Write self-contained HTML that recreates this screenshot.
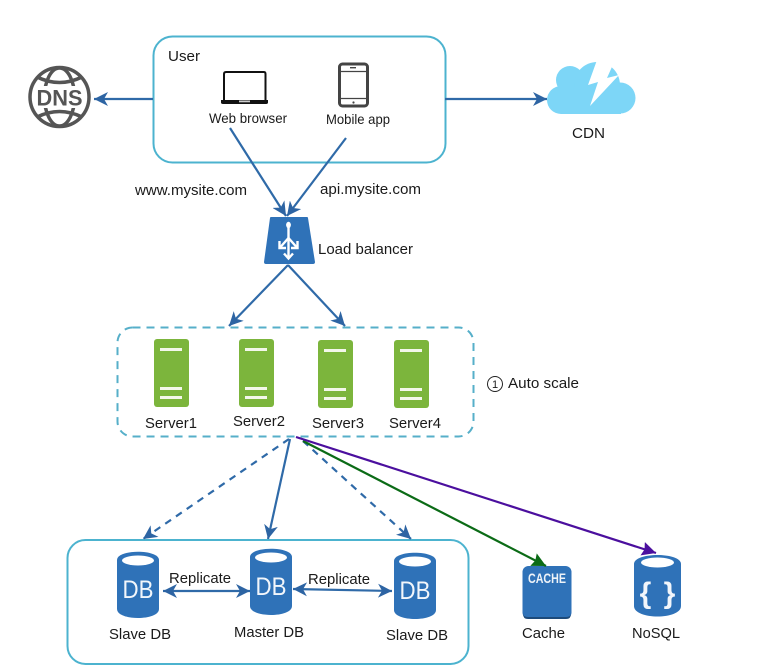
<!DOCTYPE html>
<html><head><meta charset="utf-8"><style>
html,body{margin:0;padding:0;background:#fff}
svg{display:block;filter:blur(0.35px)}
text{font-family:"Liberation Sans",sans-serif;font-size:15px;fill:#1a1a1a}
</style></head><body>
<svg width="774" height="672" viewBox="0 0 774 672" xmlns="http://www.w3.org/2000/svg">
<defs>
<marker id="a" markerUnits="userSpaceOnUse" markerWidth="15" markerHeight="14" refX="14" refY="7" orient="auto-start-reverse"><path d="M0,0 L14,7 L0,14 L4,7 Z" fill="#2d64a3"/></marker>
<marker id="g" markerUnits="userSpaceOnUse" markerWidth="15" markerHeight="14" refX="14" refY="7" orient="auto"><path d="M0,0 L14,7 L0,14 L2,7 Z" fill="#0b6b16"/></marker>
<marker id="p" markerUnits="userSpaceOnUse" markerWidth="15" markerHeight="14" refX="14" refY="7" orient="auto"><path d="M0,0 L14,7 L0,14 L2,7 Z" fill="#4b0f9e"/></marker>
<g id="srv"><rect width="35" height="68" rx="3" fill="#7cb53c"/><rect x="6" y="9" width="22" height="3" fill="#f3f7ea"/><rect x="6" y="48" width="22" height="3" fill="#f3f7ea"/><rect x="6" y="57" width="22" height="3" fill="#f3f7ea"/></g>
<g id="db"><path d="M0,8 C0,-3 42,-3 42,8 V57 C42,69 0,69 0,57 Z" fill="#2f72b8"/><ellipse cx="21" cy="8.500" rx="16" ry="5" fill="#fff"/><text x="21" y="46" text-anchor="middle" style="font-size:25px;fill:#f2f6fb" textLength="31" lengthAdjust="spacingAndGlyphs">DB</text></g>
</defs>

<!-- boxes -->
<rect x="153.500" y="36.500" width="292" height="126" rx="19" fill="none" stroke="#4cb3cf" stroke-width="2"/>
<rect x="117.500" y="327.500" width="356" height="109" rx="15" fill="none" stroke="#56afc9" stroke-width="2" stroke-dasharray="8 6"/>
<rect x="67.500" y="540" width="401" height="124" rx="18" fill="none" stroke="#4cb3cf" stroke-width="2"/>

<!-- DNS -->
<g fill="none" stroke="#555" stroke-width="3.500">
<ellipse cx="59.500" cy="97" rx="15" ry="29"/>
<path d="M37,77 Q59.500,88 82,77 M37,117 Q59.500,106 82,117"/>
</g>
<rect x="33" y="86" width="53" height="22" fill="#fff"/>
<circle cx="59.500" cy="97" r="29.500" fill="none" stroke="#555" stroke-width="3.500"/>
<text x="59.500" y="105.500" text-anchor="middle" style="font-size:22px;font-weight:bold;fill:#555" textLength="46" lengthAdjust="spacingAndGlyphs">DNS</text>

<!-- laptop -->
<path d="M224,100 V74 Q224,72 226,72 H264 Q265.500,72 265.500,74 V100" fill="#fff" stroke="#111" stroke-width="2"/>
<path d="M221,100 H268 V102.500 Q268,104 266,104 H223 Q221,104 221,102.500 Z" fill="#111"/>
<rect x="239" y="100.500" width="11" height="1.800" fill="#ccc"/>
<!-- phone -->
<rect x="339.500" y="64" width="28" height="42" rx="3" fill="#fff" stroke="#444" stroke-width="3"/>
<path d="M339,71.500 H368 M339,98.500 H368" stroke="#444" stroke-width="1.300"/>
<rect x="350" y="67" width="6" height="1.400" fill="#444"/>
<circle cx="353.500" cy="102.500" r="1.100" fill="#444"/>

<!-- cloud -->
<g fill="#7dd6f7">
<circle cx="561" cy="100" r="14"/>
<circle cx="620" cy="98" r="15.500"/>
<circle cx="570" cy="80" r="14"/>
<circle cx="597" cy="85" r="23"/>
<rect x="561" y="90" width="60" height="24"/>
</g>
<path d="M597,60 L588,85 L598,82 L590,106 L619,75 L607,78 L615,60 Z" fill="#fff"/>

<!-- load balancer -->
<path d="M270,218 Q270,217 271,217 H307 Q308,217 308,218 L315,262 Q315,264 313,264 H266 Q264,264 264,262 Z" fill="#2f72b8"/>
<g stroke="#fff" stroke-width="2.400" fill="none">
<path d="M288.500,226 V258"/>
<path d="M288.500,238 L280.500,247 M288.500,238 L296.500,247"/>
<path d="M284,253.500 L288.500,258.500 L293,253.500"/>
<path d="M279.500,241 V248 H286 M291,248 H297.500 V241"/>
</g>
<ellipse cx="288.500" cy="225" rx="2.400" ry="3.200" fill="#fff"/>

<!-- servers -->
<use href="#srv" x="154" y="339"/>
<use href="#srv" x="239" y="339"/>
<use href="#srv" x="318" y="340"/>
<use href="#srv" x="394" y="340"/>

<!-- DB -->
<use href="#db" x="117" y="552"/>
<use href="#db" x="250" y="549"/>
<use href="#db" x="394" y="553"/>

<!-- cache -->
<rect x="522.500" y="566" width="49" height="52.500" rx="6" fill="#2f72b8"/>
<path d="M523,613 Q523,617 528,617 H566 Q571,617 571,613 V614 Q571,619 566,619 H528 Q523,619 523,614 Z" fill="#1d4a7a"/>
<text x="547" y="583" text-anchor="middle" style="font-size:14px;font-weight:bold;fill:#eef3f8" textLength="38" lengthAdjust="spacingAndGlyphs">CACHE</text>

<!-- nosql -->
<path d="M634,564 C634,552 681,552 681,564 V606 C681,620 634,620 634,606 Z" fill="#2f72b8"/>
<ellipse cx="657.500" cy="562.500" rx="16.500" ry="5" fill="#fff"/>
<text x="645.500" y="603" text-anchor="middle" style="font-size:30px;font-weight:bold;fill:#f2f6fb">{</text>
<text x="669.500" y="603" text-anchor="middle" style="font-size:30px;font-weight:bold;fill:#f2f6fb">}</text>

<!-- connectors -->
<g fill="none" stroke="#2f6aa8" stroke-width="2.200">
<path d="M153,99 H94" marker-end="url(#a)"/>
<path d="M445,99 H547" marker-end="url(#a)"/>
<path d="M230,128 L286,216" marker-end="url(#a)"/>
<path d="M346,138 L287,216" marker-end="url(#a)"/>
<path d="M288,265 L229,326" marker-end="url(#a)"/>
<path d="M288,265 L345,326" marker-end="url(#a)"/>
<path d="M290,439 L268,539" marker-end="url(#a)"/>
<path d="M289,439 L143,539" stroke-dasharray="7 6" marker-end="url(#a)"/>
<path d="M303,441 L411,539" stroke-dasharray="7 6" marker-end="url(#a)"/>
<path d="M163,591 H250" marker-start="url(#a)" marker-end="url(#a)"/>
<path d="M293,589 L392,591" marker-start="url(#a)" marker-end="url(#a)"/>
</g>
<path d="M303,441 L546,566" fill="none" stroke="#0b6b16" stroke-width="2.200" marker-end="url(#g)"/>
<path d="M296,437 L656,553" fill="none" stroke="#4b0f9e" stroke-width="2.200" marker-end="url(#p)"/>

<!-- labels -->
<text x="168" y="61" textLength="32" lengthAdjust="spacingAndGlyphs">User</text>
<text x="209" y="123" style="font-size:14px" textLength="78" lengthAdjust="spacingAndGlyphs">Web browser</text>
<text x="326" y="124" style="font-size:14px" textLength="64" lengthAdjust="spacingAndGlyphs">Mobile app</text>
<text x="135" y="195" textLength="112" lengthAdjust="spacingAndGlyphs">www.mysite.com</text>
<text x="320" y="194" textLength="101" lengthAdjust="spacingAndGlyphs">api.mysite.com</text>
<text x="318" y="254" textLength="95" lengthAdjust="spacingAndGlyphs">Load balancer</text>
<text x="572" y="138" textLength="33" lengthAdjust="spacingAndGlyphs">CDN</text>
<text x="145" y="428" textLength="52" lengthAdjust="spacingAndGlyphs">Server1</text>
<text x="233" y="426" textLength="52" lengthAdjust="spacingAndGlyphs">Server2</text>
<text x="312" y="428" textLength="52" lengthAdjust="spacingAndGlyphs">Server3</text>
<text x="389" y="428" textLength="52" lengthAdjust="spacingAndGlyphs">Server4</text>
<circle cx="495" cy="384" r="7.500" fill="none" stroke="#222" stroke-width="1"/>
<text x="495" y="388" text-anchor="middle" style="font-size:11px">1</text>
<text x="508" y="388" textLength="71" lengthAdjust="spacingAndGlyphs">Auto scale</text>
<text x="169" y="583" textLength="62" lengthAdjust="spacingAndGlyphs">Replicate</text>
<text x="308" y="584" textLength="62" lengthAdjust="spacingAndGlyphs">Replicate</text>
<text x="109" y="639" textLength="62" lengthAdjust="spacingAndGlyphs">Slave DB</text>
<text x="234" y="637" textLength="70" lengthAdjust="spacingAndGlyphs">Master DB</text>
<text x="386" y="640" textLength="62" lengthAdjust="spacingAndGlyphs">Slave DB</text>
<text x="522" y="638" textLength="43" lengthAdjust="spacingAndGlyphs">Cache</text>
<text x="632" y="638" textLength="48" lengthAdjust="spacingAndGlyphs">NoSQL</text>
</svg>
</body></html>
